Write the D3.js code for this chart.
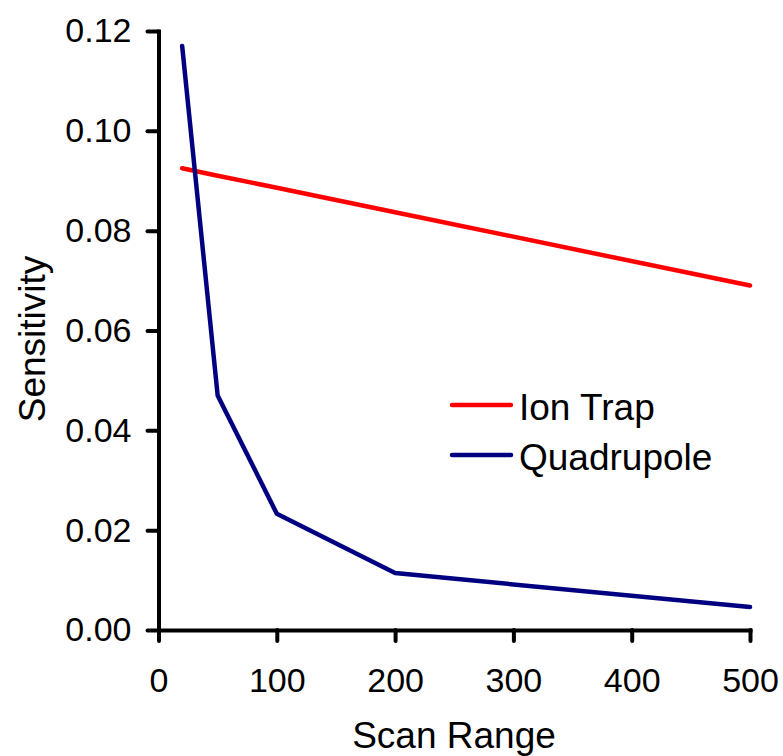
<!DOCTYPE html>
<html>
<head>
<meta charset="utf-8">
<script src="https://cdn.jsdelivr.net/npm/d3@7"></script>
<style>
  html, body { margin: 0; padding: 0; background: #fff; }
  svg { display: block; }
  text { font-family: "Liberation Sans", Arial, sans-serif; fill: #000; }
</style>
</head>
<body>
<svg id="chart" width="783" height="756"></svg>
<script>
const scanRange = [20, 50, 100, 200, 500];
const ionTrap = [0.0925, 0.0910, 0.0886, 0.0837, 0.0690];
const quadrupole = [0.117, 0.047, 0.0233, 0.0114, 0.0046];
const xTicks = [0, 100, 200, 300, 400, 500];
const yTicks = [0, 0.02, 0.04, 0.06, 0.08, 0.10, 0.12];
const seriesNames = ["Ion Trap", "Quadrupole"];
const seriesColors = ["#FF0000", "#000080"];

const svg = d3.select("#chart");
const x = d3.scaleLinear().domain([0, 500]).range([158.5, 750]);
const y = d3.scaleLinear().domain([0, 0.12]).range([630, 31]);

const xAxis = d3.axisBottom(x).tickValues(xTicks).tickSize(11).tickPadding(27)
  .tickFormat(d3.format("d")).tickSizeOuter(0);
const yAxis = d3.axisLeft(y).tickValues(yTicks).tickSize(11).tickPadding(16)
  .tickFormat(d3.format(".2f")).tickSizeOuter(0);

const gx = svg.append("g").attr("transform", `translate(0,${y(0)})`).call(xAxis);
const gy = svg.append("g").attr("transform", `translate(${x(0)},0)`).call(yAxis);
[gx, gy].forEach(g => {
  g.selectAll("path.domain").attr("stroke", "#000").attr("stroke-width", 4).attr("stroke-linecap", "square");
  g.selectAll(".tick line").attr("stroke", "#000").attr("stroke-width", 4).attr("stroke-linecap", "round");
  g.selectAll(".tick text").style("font-size", "34px").style("font-family", "'Liberation Sans', Arial, sans-serif").attr("fill", "#000");
});

const line = d3.line().x(d => x(d[0])).y(d => y(d[1]));
const data = [ionTrap, quadrupole].map(vals => scanRange.map((s, i) => [s, vals[i]]));
data.forEach((d, i) => {
  svg.append("path").datum(d).attr("d", line)
    .attr("fill", "none").attr("stroke", seriesColors[i]).attr("stroke-width", 4.5)
    .attr("stroke-linejoin", "round").attr("stroke-linecap", "round");
});

// Axis titles
svg.append("text").attr("x", 454).attr("y", 748).attr("text-anchor", "middle")
  .style("font-size", "37px").text("Scan Range");
svg.append("text").attr("transform", "translate(45,339) rotate(-90)").attr("text-anchor", "middle")
  .style("font-size", "37px").text("Sensitivity");

// Legend
const legend = svg.append("g");
seriesNames.forEach((name, i) => {
  const ly = 405 + i * 50;
  legend.append("line").attr("x1", 452).attr("x2", 511).attr("y1", ly).attr("y2", ly)
    .attr("stroke", seriesColors[i]).attr("stroke-width", 4.5).attr("stroke-linecap", "round");
  legend.append("text").attr("x", 519).attr("y", ly + 15).style("font-size", "37px").text(name);
});
</script>
</body>
</html>
